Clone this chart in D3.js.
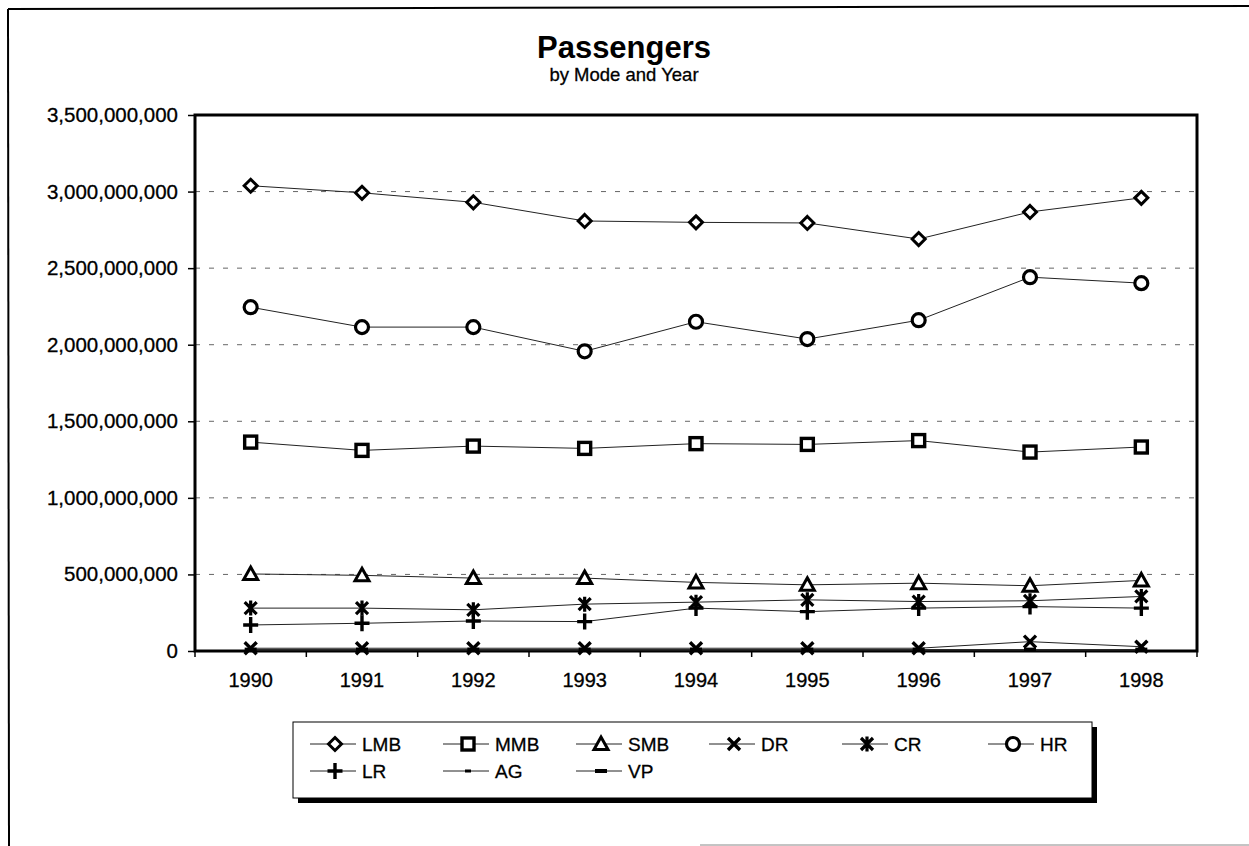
<!DOCTYPE html>
<html><head><meta charset="utf-8">
<script src="https://cdn.jsdelivr.net/npm/d3@7"></script>
<style>body{margin:0;background:#fff;}svg{display:block;font-family:"Liberation Sans",Arial,sans-serif;}</style>
</head><body>
<svg id="c" width="1249" height="846"></svg>
<script>
const years = ["1990","1991","1992","1993","1994","1995","1996","1997","1998"];
const LMB = [3038e6, 2992e6, 2930e6, 2808e6, 2799e6, 2795e6, 2690e6, 2867e6, 2959e6];
const MMB = [1364e6, 1310e6, 1338e6, 1323e6, 1354e6, 1349e6, 1374e6, 1299e6, 1332e6];
const SMB = [503e6, 494e6, 476e6, 476e6, 448e6, 432e6, 443e6, 426e6, 461e6];
const DR  = [18e6, 18e6, 18e6, 18e6, 18e6, 18e6, 18e6, 61e6, 28e6];
const CR  = [280e6, 280e6, 269e6, 306e6, 319e6, 334e6, 323e6, 328e6, 356e6];
const HR  = [2245e6, 2115e6, 2115e6, 1957e6, 2150e6, 2037e6, 2160e6, 2441e6, 2402e6];
const LR  = [170e6, 181e6, 196e6, 192e6, 280e6, 257e6, 280e6, 290e6, 280e6];
const AG  = [5e6, 5e6, 5e6, 5e6, 5e6, 5e6, 5e6, 5e6, 5e6];
const VP  = [9e6, 9e6, 9e6, 9e6, 9e6, 9e6, 9e6, 9e6, 9e6];
const yTicks = [0, 500e6, 1000e6, 1500e6, 2000e6, 2500e6, 3000e6, 3500e6];
const seriesNames = ["LMB","MMB","SMB","DR","CR","HR","LR","AG","VP"];
const seriesVals = [LMB, MMB, SMB, DR, CR, HR, LR, AG, VP];
const markers = ["diamond","square","triangle","x","asterisk","circle","plus","dashsmall","dashbig"];

const svg = d3.select("#c");
const L = 195, R = 1197, T = 115, B = 651;

// outer frame
svg.append("line").attr("x1",8).attr("y1",9).attr("x2",1260).attr("y2",6).attr("stroke","#000").attr("stroke-width",2);
svg.append("line").attr("x1",8).attr("y1",9).attr("x2",9).attr("y2",846).attr("stroke","#000").attr("stroke-width",2);
svg.append("line").attr("x1",700).attr("y1",845).attr("x2",1249).attr("y2",845).attr("stroke","#888").attr("stroke-width",1);

const x = d3.scaleBand().domain(years).range([L, R]);
const y = d3.scaleLinear().domain([0, 3500e6]).range([B, T]);
const cx = d => x(d) + x.bandwidth()/2;

// gridlines
svg.append("g").selectAll("line").data(yTicks.filter(v => v > 0 && v < 3500e6)).join("line")
  .attr("x1", L).attr("x2", R).attr("y1", d => y(d)).attr("y2", d => y(d))
  .attr("stroke", "#666").attr("stroke-width", 1).attr("stroke-dasharray", "5,9");

// y axis
const yAxis = d3.axisLeft(y).tickValues(yTicks).tickSize(7).tickPadding(10).tickFormat(d3.format(","));
const gy = svg.append("g").attr("transform", `translate(${L},0)`).call(yAxis);
gy.select(".domain").remove();
gy.selectAll("line").attr("stroke","#000").attr("stroke-width",1.5);
gy.selectAll("text").attr("font-size", 20.5).attr("fill","#000").attr("font-family","Liberation Sans, Arial, sans-serif")
  .attr("stroke","#000").attr("stroke-width",0.3);

// x axis
const gx = svg.append("g").attr("transform", `translate(0,${B})`);
gx.selectAll("line").data(years.concat(["end"])).join("line")
  .attr("x1", (d,i) => L + i*x.bandwidth()).attr("x2", (d,i) => L + i*x.bandwidth())
  .attr("y1", 0).attr("y2", 6).attr("stroke","#000").attr("stroke-width",1.5);
gx.selectAll("text").data(years).join("text")
  .attr("x", d => cx(d)).attr("y", 36).attr("text-anchor","middle")
  .attr("font-size", 20).attr("stroke","#000").attr("stroke-width",0.3).text(d => d);

// plot frame
svg.append("rect").attr("x", L).attr("y", T).attr("width", R-L).attr("height", B-T)
  .attr("fill","none").attr("stroke","#000").attr("stroke-width",3);

function drawMarker(g, type, px, py) {
  const s = g.append("g").attr("transform", `translate(${px},${py})`);
  switch(type) {
    case "diamond":
      s.append("path").attr("d","M0,-6.5L6.5,0L0,6.5L-6.5,0Z").attr("fill","#fff").attr("stroke","#000").attr("stroke-width",3); break;
    case "square":
      s.append("rect").attr("x",-6).attr("y",-6).attr("width",12).attr("height",12).attr("fill","#fff").attr("stroke","#000").attr("stroke-width",3.4); break;
    case "triangle":
      s.append("path").attr("d","M0,-7L7,5.5L-7,5.5Z").attr("fill","#fff").attr("stroke","#000").attr("stroke-width",3); break;
    case "circle":
      s.append("circle").attr("r",6.5).attr("fill","#fff").attr("stroke","#000").attr("stroke-width",3.2); break;
    case "x":
      s.append("path").attr("d","M-6,-6L6,6M6,-6L-6,6").attr("stroke","#000").attr("stroke-width",3.4); break;
    case "asterisk":
      s.append("path").attr("d","M-6,-6L6,6M6,-6L-6,6M0,-7.5L0,7.5").attr("stroke","#000").attr("stroke-width",3.2); break;
    case "plus":
      s.append("path").attr("d","M-7.5,0L7.5,0M0,-8L0,8").attr("stroke","#000").attr("stroke-width",3.4); break;
    case "dashsmall":
      s.append("rect").attr("x",-3).attr("y",-1.5).attr("width",6).attr("height",3).attr("fill","#000"); break;
    case "dashbig":
      s.append("rect").attr("x",-6).attr("y",-2).attr("width",12).attr("height",4).attr("fill","#000"); break;
  }
}

// series
const line = d3.line().x((d,i) => cx(years[i])).y(d => y(d));
const gs = svg.append("g");
seriesVals.forEach((vals, k) => {
  gs.append("path").datum(vals).attr("d", line).attr("fill","none").attr("stroke","#222").attr("stroke-width",1);
});
seriesVals.forEach((vals, k) => {
  vals.forEach((v, i) => drawMarker(gs, markers[k], cx(years[i]), y(v)));
});

// title
svg.append("text").attr("x", 624).attr("y", 58).attr("text-anchor","middle")
  .attr("font-size", 31).attr("font-weight","bold").text("Passengers");
svg.append("text").attr("x", 624).attr("y", 81).attr("text-anchor","middle")
  .attr("font-size", 18.5).attr("stroke","#000").attr("stroke-width",0.3).text("by Mode and Year");

// legend
const lg = svg.append("g");
lg.append("rect").attr("x", 298).attr("y", 727).attr("width", 799).attr("height", 76).attr("fill","#000");
lg.append("rect").attr("x", 293).attr("y", 722).attr("width", 799).attr("height", 76).attr("fill","#fff").attr("stroke","#000").attr("stroke-width",1);
const colX = [310, 443, 576, 709, 842, 988], rowY = [744, 771];
seriesNames.forEach((name, k) => {
  const col = k % 6, row = Math.floor(k / 6);
  const x0 = colX[col], yy = rowY[row];
  lg.append("line").attr("x1", x0).attr("x2", x0+46).attr("y1", yy).attr("y2", yy).attr("stroke","#222").attr("stroke-width",1);
  drawMarker(lg, markers[k], x0+25, yy);
  lg.append("text").attr("x", x0+52).attr("y", yy+7).attr("font-size",19)
    .attr("stroke","#000").attr("stroke-width",0.3).text(name);
});
</script>
</body></html>
